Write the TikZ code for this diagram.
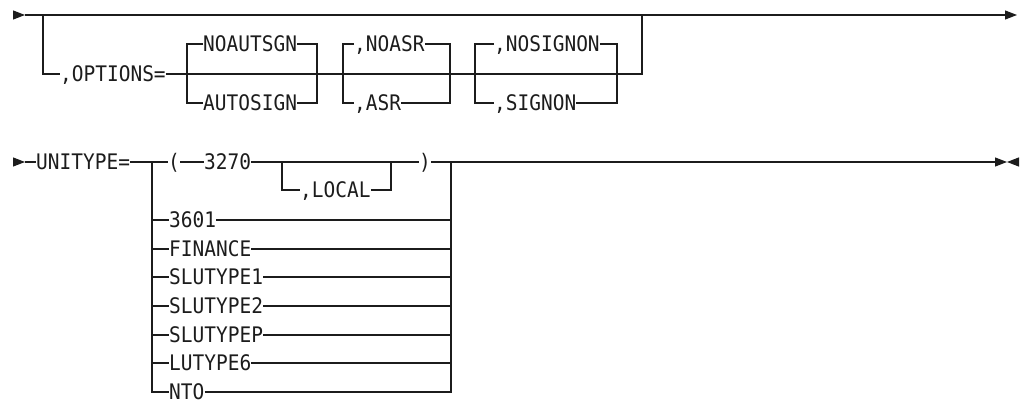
\documentclass[tikz,border=0pt]{standalone}
\usepackage{fontspec}
\newfontfamily\railfont[FakeStretch=0.91]{DejaVu Sans Mono}
\usetikzlibrary{arrows.meta}
\definecolor{Ink}{HTML}{1C1C1C}
\tikzset{
  rail word/.style={anchor=west,inner sep=0pt,text height=15.6pt,text depth=0pt,
    font=\railfont\fontsize{21.4}{22}\selectfont,text=Ink},
  rail line/.style={line width=1.1pt,draw=Ink},
  rail end/.style={-{Triangle[length=12pt,width=9pt]},line width=1.1pt,draw=Ink,fill=Ink}
}

\begin{document}
\begin{tikzpicture}[x=1pt,y=-1pt]
  \useasboundingbox (0,0) rectangle (1022,403);
  \coordinate (in1) at (13,15);
  \coordinate (go1) at (25,15);
  \coordinate (split1) at (43,15);
  \coordinate (join1) at (642,15);
  \coordinate (out1) at (1017,15);
  \draw[rail end] (in1) -- (go1);
  \draw[rail end] (go1) -- (out1);
  \node[rail word] (options) at (60,74) {,OPTIONS=};
  \draw[rail line] (split1) |- (options.west);
  \draw[rail line] (options.east) -| (join1);
  \node[rail word] (noautsgn) at (203,44) {NOAUTSGN};
  \node[rail word] (autosign) at (203,103) {AUTOSIGN};
  \coordinate (g1a) at (187,74);
  \coordinate (g1b) at (317,74);
  \draw[rail line] (noautsgn.west) -| (g1a) |- (autosign.west);
  \draw[rail line] (noautsgn.east) -| (g1b) |- (autosign.east);
  \node[rail word] (noasr) at (354,44) {,NOASR};
  \node[rail word] (asr) at (354,103) {,ASR};
  \coordinate (g2a) at (343,74);
  \coordinate (g2b) at (450,74);
  \draw[rail line] (noasr.west) -| (g2a) |- (asr.west);
  \draw[rail line] (noasr.east) -| (g2b) |- (asr.east);
  \node[rail word] (nosignon) at (494,44) {,NOSIGNON};
  \node[rail word] (signon) at (494,103) {,SIGNON};
  \coordinate (g3a) at (475,74);
  \coordinate (g3b) at (617,74);
  \draw[rail line] (nosignon.west) -| (g3a) |- (signon.west);
  \draw[rail line] (nosignon.east) -| (g3b) |- (signon.east);

  \coordinate (in2) at (13,162);
  \coordinate (go2) at (25,162);
  \coordinate (split2) at (152,162);
  \coordinate (join2) at (451,162);
  \coordinate (stop2) at (1007,162);
  \coordinate (out2) at (1018,162);
  \draw[rail end] (in2) -- (go2);
  \node[rail word] (unitype) at (36,162) {UNITYPE=};
  \draw[rail line] (go2) -- (unitype.west);
  \draw[rail line] (unitype.east) -- (split2);
  \node[rail word] (lparen) at (168,162) {(};
  \node[rail word] (t3270) at (204,162) {3270};
  \node[rail word] (local) at (300,190) {,LOCAL};
  \node[rail word] (rparen) at (419,162) {)};
  \coordinate (l1) at (282,162);
  \coordinate (l2) at (391,162);
  \draw[rail line] (split2) -- (lparen.west);
  \draw[rail line] (lparen.east) -- (t3270.west);
  \draw[rail line] (t3270.east) -- (rparen.west);
  \draw[rail line] (l1) |- (local.west);
  \draw[rail line] (local.east) -| (l2);
  \draw[rail line] (rparen.east) -- (join2);
  \draw[rail end] (join2) -- (stop2);
  \draw[rail end] (out2) -- (stop2);
  \node[rail word] (t3601) at (169,220) {3601};
  \node[rail word] (finance) at (169,249) {FINANCE};
  \node[rail word] (slutype1) at (169,277) {SLUTYPE1};
  \node[rail word] (slutype2) at (169,306) {SLUTYPE2};
  \node[rail word] (slutypep) at (169,335) {SLUTYPEP};
  \node[rail word] (lutype6) at (169,363) {LUTYPE6};
  \node[rail word] (nto) at (169,392) {NTO};
  \draw[rail line] (split2) |- (nto.west);
  \draw[rail line] (nto.east) -| (join2);
  \draw[rail line] (t3601.west -| split2) -- (t3601.west);
  \draw[rail line] (t3601.east) -- (t3601.east -| join2);
  \draw[rail line] (finance.west -| split2) -- (finance.west);
  \draw[rail line] (finance.east) -- (finance.east -| join2);
  \draw[rail line] (slutype1.west -| split2) -- (slutype1.west);
  \draw[rail line] (slutype1.east) -- (slutype1.east -| join2);
  \draw[rail line] (slutype2.west -| split2) -- (slutype2.west);
  \draw[rail line] (slutype2.east) -- (slutype2.east -| join2);
  \draw[rail line] (slutypep.west -| split2) -- (slutypep.west);
  \draw[rail line] (slutypep.east) -- (slutypep.east -| join2);
  \draw[rail line] (lutype6.west -| split2) -- (lutype6.west);
  \draw[rail line] (lutype6.east) -- (lutype6.east -| join2);
\end{tikzpicture}
\end{document}
